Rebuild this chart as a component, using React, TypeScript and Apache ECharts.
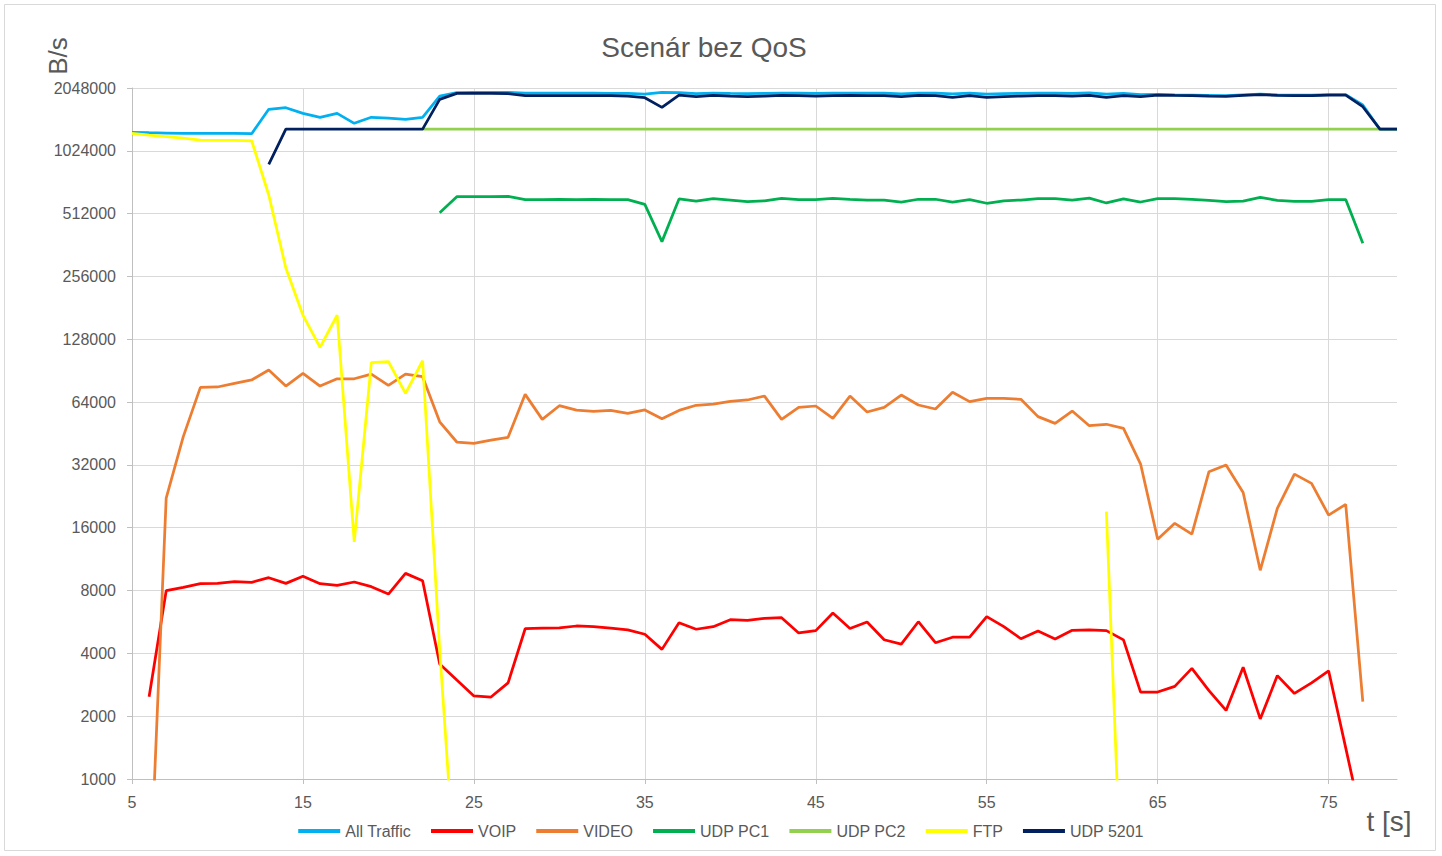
import React, { useEffect, useRef } from "react";
import * as echarts from "echarts";

// time in seconds (x categories)
const seconds = [
  5, 6, 7, 8, 9, 10, 11, 12, 13, 14, 15, 16, 17, 18, 19, 20, 21, 22, 23, 24, 25, 26, 27, 28, 29,
  30, 31, 32, 33, 34, 35, 36, 37, 38, 39, 40, 41, 42, 43, 44, 45, 46, 47, 48, 49, 50, 51, 52, 53,
  54, 55, 56, 57, 58, 59, 60, 61, 62, 63, 64, 65, 66, 67, 68, 69, 70, 71, 72, 73, 74, 75, 76, 77,
  78, 79,
];

const yTicks = [1000, 2000, 4000, 8000, 16000, 32000, 64000, 128000, 256000, 512000, 1024000, 2048000];

const allTraffic = [
  1255000, 1250000, 1246000, 1242000, 1240000, 1240000, 1240000, 1237000, 1619000, 1648000,
  1548000, 1482000, 1548000, 1387000, 1482000, 1470000, 1450000, 1482000, 1874000, 1945000,
  1952000, 1952000, 1950000, 1935000, 1935000, 1938000, 1935000, 1935000, 1932000, 1930000,
  1916000, 1952000, 1945000, 1925000, 1938000, 1930000, 1925000, 1930000, 1938000, 1935000,
  1930000, 1935000, 1938000, 1935000, 1935000, 1920000, 1938000, 1935000, 1920000, 1935000,
  1915000, 1925000, 1930000, 1935000, 1938000, 1930000, 1940000, 1915000, 1930000, 1905000,
  1910000, 1900000, 1895000, 1890000, 1885000, 1900000, 1912000, 1900000, 1895000, 1895000,
  1905000, 1905000, 1697000, 1300000, 1300000,
];

const voip = [
  null, 2480, 7990, 8290, 8630, 8660, 8820, 8760, 9220, 8660,
  9360, 8630, 8470, 8790, 8350, 7700, 9670, 8920, 3560, 2980,
  2500, 2470, 2890, 5250, 5280, 5300, 5410, 5370, 5280, 5180,
  4940, 4180, 5610, 5220, 5370, 5800, 5760, 5890, 5930, 5010,
  5140, 6240, 5260, 5650, 4650, 4430, 5670, 4500, 4780, 4790,
  6000, 5370, 4700, 5120, 4690, 5160, 5180, 5140, 4640, 2610,
  2610, 2780, 3390, 2650, 2130, 3430, 1940, 3130, 2570, 2890,
  3300, 1410, 600, null, null,
];

const video = [
  null, 236, 22200, 43700, 75300, 75600, 78700, 81700, 91200, 76400,
  87900, 76400, 82800, 82800, 87200, 77000, 87200, 84700, 51500, 41200,
  40600, 42100, 43400, 69700, 52900, 61500, 58600, 57800, 58400, 56500,
  58700, 53300, 58400, 61800, 62600, 64500, 65500, 68400, 52900, 60400,
  61300, 53500, 68400, 57400, 60400, 69200, 62000, 59300, 71300, 64300,
  66700, 66700, 66000, 54500, 50600, 58000, 49300, 50100, 47900, 32300,
  14100, 16800, 14900, 29700, 32000, 23600, 10000, 19800, 28900, 26100,
  18400, 20700, 2350, null, null,
];

const udpPc1 = [
  null, null, null, null, null, null, null, null, null, null,
  null, null, null, null, null, null, null, null, 517000, 617000,
  617000, 617000, 620000, 598000, 598000, 600000, 598000, 600000, 598000, 598000,
  567000, 376000, 602000, 588000, 604000, 595000, 584000, 590000, 606000, 598000,
  598000, 606000, 600000, 595000, 595000, 582000, 600000, 600000, 582000, 598000,
  574000, 590000, 595000, 604000, 604000, 595000, 608000, 576000, 602000, 582000,
  604000, 604000, 600000, 593000, 584000, 588000, 613000, 593000, 586000, 586000,
  598000, 598000, 369000, null, null,
];

const udpPc2 = [
  null, null, null, null, null, null, null, null, null, null,
  null, null, null, null, null, null, null, 1300000, 1300000, 1300000,
  1300000, 1300000, 1300000, 1300000, 1300000, 1300000, 1300000, 1300000, 1300000, 1300000,
  1300000, 1300000, 1300000, 1300000, 1300000, 1300000, 1300000, 1300000, 1300000, 1300000,
  1300000, 1300000, 1300000, 1300000, 1300000, 1300000, 1300000, 1300000, 1300000, 1300000,
  1300000, 1300000, 1300000, 1300000, 1300000, 1300000, 1300000, 1300000, 1300000, 1300000,
  1300000, 1300000, 1300000, 1300000, 1300000, 1300000, 1300000, 1300000, 1300000, 1300000,
  1300000, 1300000, 1300000, 1300000, 1300000,
];

const ftp = [
  1242000, 1218000, 1198000, 1177000, 1153000, 1150000, 1150000, 1144000, 629000, 281000,
  167000, 117000, 167000, 13700, 98900, 100000, 70500, 101000, 4150, 260,
  null, null, null, null, null, null, null, null, null, null,
  null, null, null, null, null, null, null, null, null, null,
  null, null, null, null, null, null, null, null, null, null,
  null, null, null, null, null, null, null, 19100, 160, null,
  null, null, null, null, null, null, null, null, null, null,
  null, null, null, null, null,
];

const udp5201 = [
  null, null, null, null, null, null, null, null, 882000, 1300000,
  1300000, 1300000, 1300000, 1300000, 1300000, 1300000, 1300000, 1300000, 1806000, 1931000,
  1931000, 1931000, 1924000, 1882000, 1882000, 1882000, 1882000, 1882000, 1882000, 1874000,
  1840000, 1654000, 1895000, 1861000, 1888000, 1874000, 1861000, 1874000, 1888000, 1882000,
  1874000, 1882000, 1888000, 1882000, 1882000, 1861000, 1888000, 1882000, 1847000, 1882000,
  1847000, 1861000, 1874000, 1882000, 1882000, 1874000, 1888000, 1847000, 1882000, 1861000,
  1895000, 1888000, 1882000, 1874000, 1868000, 1888000, 1902000, 1888000, 1882000, 1882000,
  1895000, 1895000, 1666000, 1300000, 1300000,
];

const seriesNames = ["All Traffic", "VOIP", "VIDEO", "UDP PC1", "UDP PC2", "FTP", "UDP 5201"];
const seriesColors = ["#00B0F0", "#FF0000", "#ED7D31", "#00B050", "#92D050", "#FFFF00", "#002060"];
const seriesValues = [allTraffic, voip, video, udpPc1, udpPc2, ftp, udp5201];

const FONT = "Liberation Sans, Arial, sans-serif";

export default function App() {
  const ref = useRef<HTMLDivElement>(null);

  useEffect(() => {
    if (!ref.current) return;
    const chart = echarts.init(ref.current, null, { renderer: "svg" });
    const option: any = {
      animation: false,
      backgroundColor: "#ffffff",
      legend: {
        data: seriesNames,
        left: "center",
        top: 818,
        icon: "rect",
        itemWidth: 42,
        itemHeight: 4,
        itemGap: 20,
        textStyle: { fontFamily: FONT, fontSize: 16, color: "#595959" },
      },
      grid: { left: 132, top: 88, width: 1265, height: 691, containLabel: false },
      xAxis: {
        type: "category",
        data: seconds,
        boundaryGap: false,
        axisLine: { show: true, onZero: false, lineStyle: { color: "#bfbfbf", width: 1 } },
        axisTick: { show: true, interval: 9, length: 5, lineStyle: { color: "#bfbfbf" } },
        axisLabel: { interval: 9, color: "#595959", fontFamily: FONT, fontSize: 16, margin: 15 },
        splitLine: { show: true, interval: 9, lineStyle: { color: "#d9d9d9", width: 1 } },
      },
      yAxis: {
        type: "log",
        logBase: 2,
        min: 1000,
        max: 2048000,
        axisLine: { show: true, lineStyle: { color: "#bfbfbf", width: 1 } },
        axisTick: { show: true, length: 5, lineStyle: { color: "#bfbfbf" }, customValues: yTicks },
        axisLabel: {
          customValues: yTicks,
          formatter: (v: number) => String(Math.round(v)),
          color: "#595959",
          fontFamily: FONT,
          fontSize: 16,
          margin: 16,
        },
        splitLine: { show: true, lineStyle: { color: "#d9d9d9", width: 1 } },
      },
      graphic: [
        {
          type: "rect",
          shape: { x: 4.5, y: 4.5, width: 1431, height: 846 },
          style: { fill: "none", stroke: "#d9d9d9", lineWidth: 1 },
          silent: true,
        },
        {
          type: "text",
          x: 704,
          y: 47,
          style: {
            text: "Scenár bez QoS",
            fontFamily: FONT,
            fontSize: 28,
            fill: "#595959",
            align: "center",
            verticalAlign: "middle",
          },
        },
        {
          type: "text",
          x: 58,
          y: 56,
          rotation: Math.PI / 2,
          style: {
            text: "B/s",
            fontFamily: FONT,
            fontSize: 26,
            fill: "#595959",
            align: "center",
            verticalAlign: "middle",
          },
        },
        {
          type: "text",
          x: 1389,
          y: 821,
          style: {
            text: "t [s]",
            fontFamily: FONT,
            fontSize: 28,
            fill: "#595959",
            align: "center",
            verticalAlign: "middle",
          },
        },
      ],
      series: seriesNames.map((name, i) => ({
        name,
        type: "line",
        data: seriesValues[i],
        showSymbol: false,
        symbol: "none",
        connectNulls: false,
        color: seriesColors[i],
        itemStyle: { color: seriesColors[i] },
        lineStyle: { color: seriesColors[i], width: 2.75 },
        emphasis: { disabled: true },
        silent: true,
        clip: true,
      })),
    };
    chart.setOption(option);
    return () => chart.dispose();
  }, []);

  return (
    <div
      ref={ref}
      style={{ position: "fixed", left: 0, top: 0, width: 1442, height: 856, background: "#fff" }}
    />
  );
}
